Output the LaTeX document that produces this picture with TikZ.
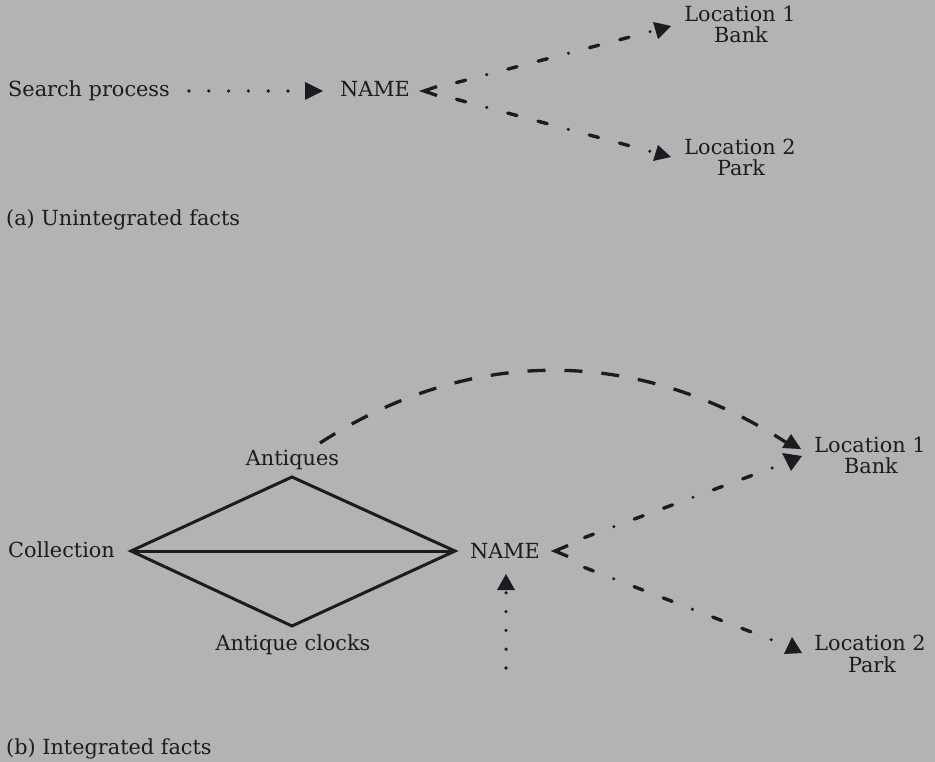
\documentclass[tikz,border=0pt]{standalone}
\usepackage{fontspec}
\setmainfont{DejaVu Serif}
\usetikzlibrary{calc}
\definecolor{bg}{RGB}{179,179,179}
\definecolor{ink}{RGB}{28,28,32}
\begin{document}
\begin{tikzpicture}[x=1pt,y=-1pt,
  txt/.style={text=ink,font=\fontsize{20.8}{24}\selectfont,inner sep=0pt,anchor=base},
  dashdot/.style={draw=ink,line width=3.4pt,line cap=round,dash pattern=on 9.5pt off 21.8pt on 0pt off 21.8pt on 9.5pt off 21.8pt},
  dotsearch/.style={draw=ink,line width=3.6pt,line cap=round,dash pattern=on 0pt off 19.8pt},
  dotvert/.style={draw=ink,line width=3.6pt,line cap=round,dash pattern=on 0pt off 18.8pt},
  longdash/.style={draw=ink,line width=3.3pt,dash pattern=on 18pt off 19pt},
  solidline/.style={draw=ink,line width=3pt,line join=miter},
  head/.style={fill=ink},
  chev/.style={draw=ink,line width=3.3pt}]
\fill[bg] (0,0) rectangle (935,762);
\useasboundingbox (0,0) rectangle (935,762);
% ---------- (a)
\node[txt,anchor=base west] (sp) at (8,97) {Search process};
\node[txt] (name1) at (375,97) {NAME};
\node[txt] (loc1a) at (740,22) {Location 1};
\node[txt] (bank1a) at (741,43) {Bank};
\node[txt] (loc2a) at (740,155) {Location 2};
\node[txt] (park2a) at (741,176) {Park};
\node[txt,anchor=base west] (capa) at (6,226) {(a) Unintegrated facts};
% search arrow
\coordinate (sps) at (189,91);
\coordinate (spd) at (289.5,91);
\draw[dotsearch] (sps) -- (spd);
\fill[head] (305,82) -- (323,91) -- (305,100) -- cycle;
% chevron
\draw[chev] (437,86.5) -- (424,91) -- (437,95.5);
% dash-dot lines (a)
\coordinate (ca1) at (456.5,82.6);
\coordinate (da1) at (649,32);
\coordinate (ca2) at (456.5,99.3);
\coordinate (da2) at (649,151);
\draw[dashdot] (ca1) -- ($(ca1)!1.01!(da1)$);
\draw[dashdot] (ca2) -- ($(ca2)!1.01!(da2)$);
\fill[head] (653,22) -- (671,26) -- (658,39) -- cycle;
\fill[head] (658,145) -- (671,157) -- (653,161) -- cycle;
% ---------- (b)
\node[txt,anchor=base west] (coll) at (8,557) {Collection};
\node[txt] (ant) at (292.5,465) {Antiques};
\node[txt] (antc) at (293,650) {Antique clocks};
\node[txt] (name2) at (505,558) {NAME};
\node[txt] (loc1b) at (870,452) {Location 1};
\node[txt] (bank1b) at (871,473) {Bank};
\node[txt] (loc2b) at (870,650) {Location 2};
\node[txt] (park2b) at (872,672) {Park};
\node[txt,anchor=base west] (capb) at (6,754) {(b) Integrated facts};
% diamond
\coordinate (L) at (131,551);
\coordinate (T) at (292,477);
\coordinate (R) at (455,551);
\coordinate (B) at (292,626);
\draw[solidline] (L) -- (T) -- (R) -- (B) -- cycle;
\draw[solidline] (L) -- (R);
% curved dashed arrow
\coordinate (cs) at (320,443);
\coordinate (ce) at (787,443);
\draw[longdash] (cs) .. controls (470,346) and (637,346) .. (ce);
\fill[head] (791,434) -- (801,449) -- (782,448) -- cycle;
% chevron (b)
\draw[chev] (568,545.5) -- (555,551) -- (568,556.5);
% dash-dot lines (b)
\coordinate (cb1) at (584.5,537.5);
\coordinate (db1) at (772,468);
\coordinate (cb2) at (584.5,567.5);
\coordinate (db2) at (772,640);
\draw[dashdot] (cb1) -- ($(cb1)!1.01!(db1)$);
\draw[dashdot] (cb2) -- ($(cb2)!1.01!(db2)$);
\fill[head] (782,453) -- (802,456) -- (791,471) -- cycle;
\fill[head] (792,637) -- (802,653) -- (784,654) -- cycle;
% vertical dotted arrow
\coordinate (vs) at (506,668);
\coordinate (vd) at (506,591);
\draw[dotvert] (vs) -- (vd);
\fill[head] (497,590) -- (506,574) -- (515,590) -- cycle;
\end{tikzpicture}
\end{document}
